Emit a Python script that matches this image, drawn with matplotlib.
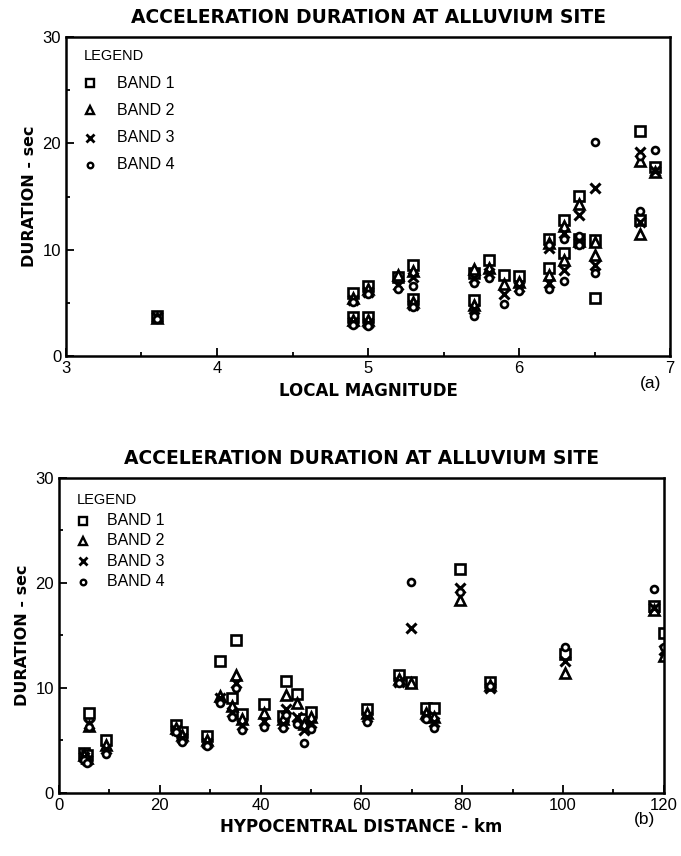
import numpy as np
import matplotlib
matplotlib.use("Agg")
import matplotlib.pyplot as plt
from matplotlib.ticker import MultipleLocator

plt.rcParams['font.family'] = ['Liberation Sans', 'DejaVu Sans']

# ---------------- data: panel (a) ----------------
magnitude = [3.6, 4.9, 4.9, 5.0, 5.0, 5.2, 5.3, 5.3, 5.7, 5.7, 5.8, 5.9,
             6.0, 6.2, 6.2, 6.3, 6.3, 6.4, 6.4, 6.5, 6.5, 6.8, 6.8, 6.9]
a_band1 = [3.8, 5.9, 3.7, 6.6, 3.7, 7.4, 8.6, 5.4, 7.8, 5.3, 9.0, 7.6,
           7.5, 11.0, 8.3, 12.8, 9.7, 15.1, 11.0, 10.9, 5.5, 21.2, 12.8, 17.8]
a_band2 = [3.6, 5.5, 3.4, 6.3, 3.4, 7.6, 8.0, 5.1, 8.2, 4.8, 8.3, 6.8,
           7.0, 10.6, 7.6, 12.2, 9.0, 14.3, 10.8, 10.7, 9.5, 18.3, 11.5, 17.3]
a_band3 = [3.7, 5.3, 3.2, 6.0, 3.1, 6.7, 7.4, 4.8, 7.3, 4.4, 7.8, 5.8,
           6.5, 10.2, 6.9, 11.6, 8.1, 13.3, 10.6, 15.8, 8.6, 19.2, 12.6, 17.4]
a_band4 = [3.5, 5.1, 2.9, 5.8, 2.8, 6.3, 6.6, 4.6, 6.9, 3.8, 7.3, 4.9,
           6.1, 10.4, 6.3, 11.0, 7.1, 11.3, 10.4, 20.1, 7.8, 18.8, 13.6, 19.4]

# ---------------- data: panel (b) ----------------
distance = [5.0, 5.5, 6.0, 9.3, 23.3, 24.5, 29.4, 32.0, 35.2, 34.4, 36.4, 40.6,
            45.0, 47.3, 44.5, 48.7, 50.0, 61.2, 67.4, 69.8, 72.8, 74.4, 79.5,
            85.5, 100.4, 118.1, 120.0]
b_band1 = [3.8, 3.6, 7.6, 5.0, 6.5, 5.8, 5.4, 12.6, 14.6, 9.0, 7.5, 8.5,
           10.7, 9.4, 7.3, 7.0, 7.7, 8.0, 11.2, 10.6, 8.1, 8.1, 21.3,
           10.6, 13.2, 17.8, 15.2]
b_band2 = [3.6, 3.3, 6.4, 4.6, 6.2, 5.5, 5.0, 9.2, 11.2, 8.3, 7.0, 7.6,
           9.3, 8.6, 7.0, 6.6, 7.2, 7.6, 10.9, 10.5, 7.6, 7.2, 18.4,
           10.3, 11.4, 17.4, 13.0]
b_band3 = [3.4, 3.1, 6.6, 4.2, 6.0, 5.2, 4.8, 9.0, 10.5, 7.7, 6.5, 6.9,
           8.0, 7.2, 6.6, 6.0, 6.7, 7.2, 10.6, 15.7, 7.3, 6.8, 19.5,
           10.0, 12.6, 17.6, 13.6]
b_band4 = [3.1, 2.9, 6.3, 3.7, 5.8, 4.9, 4.5, 8.6, 10.0, 7.2, 6.0, 6.3,
           7.4, 6.6, 6.2, 4.8, 6.1, 6.8, 10.5, 20.1, 7.0, 6.2, 19.1,
           10.2, 13.9, 19.4, 13.9]

band_labels = ["BAND 1", "BAND 2", "BAND 3", "BAND 4"]
title_text = "ACCELERATION DURATION AT ALLUVIUM SITE"

markers = ['s', '^', 'x', 'o']
msizes = [6.5, 6.5, 6.5, 5]
BOLD = ['DejaVu Sans']

fig = plt.figure(figsize=(6.81, 8.56), dpi=100)
ax1 = fig.add_axes([0.0969, 0.584, 0.887, 0.3727])
ax2 = fig.add_axes([0.0866, 0.0736, 0.888, 0.368])


def draw(ax, xs, bands):
    for b, (ys, m, ms) in enumerate(zip(bands, markers, msizes)):
        if m == 'x':
            ax.plot(xs, ys, linestyle='none', marker=m, ms=ms, mew=2.2,
                    color='black')
        else:
            ax.plot(xs, ys, linestyle='none', marker=m, ms=ms, mew=1.9,
                    mfc='white', mec='black')
    ax.set_ylim(0, 30)
    ax.yaxis.set_major_locator(MultipleLocator(10))
    ax.yaxis.set_minor_locator(MultipleLocator(5))
    ax.tick_params(which='both', direction='in', labelsize=12, width=1.3,
                   top=False, right=False)
    ax.tick_params(which='major', length=6)
    ax.tick_params(which='minor', length=3)
    for sp in ax.spines.values():
        sp.set_linewidth(1.8)
    ax.set_ylabel("DURATION - sec", fontsize=11.5, fontweight='bold',
                  family=BOLD)
    ax.set_title(title_text, fontsize=13.5, fontweight='bold', pad=10,
                 family=BOLD)


def legend(ax, x0, xt, y0, dy, fs):
    ax.text(x0, y0, "LEGEND", transform=ax.transAxes, fontsize=fs - 1,
            va='center', ha='left')
    for i, (lab, m, ms) in enumerate(zip(band_labels, markers, msizes)):
        y = y0 - dy * (i + 1)
        if m == 'x':
            ax.plot([x0 + 0.01], [y], transform=ax.transAxes, marker=m,
                    ms=ms - 0.5, mew=2.0, color='black', clip_on=False)
        else:
            ax.plot([x0 + 0.01], [y], transform=ax.transAxes, marker=m,
                    ms=ms - 1, mew=1.7, mfc='white', mec='black',
                    clip_on=False)
        ax.text(xt, y, lab, transform=ax.transAxes, fontsize=fs,
                va='center', ha='left')


draw(ax1, magnitude, [a_band1, a_band2, a_band3, a_band4])
ax1.set_xlim(3, 7)
ax1.xaxis.set_major_locator(MultipleLocator(1))
ax1.xaxis.set_minor_locator(MultipleLocator(0.5))
ax1.set_xlabel("LOCAL MAGNITUDE", fontsize=12, fontweight='bold', family=BOLD)
ax1.text(0.985, -0.085, "(a)", transform=ax1.transAxes, fontsize=12.5,
         ha='right', va='center')
legend(ax1, 0.03, 0.085, 0.94, 0.085, 11.5)

draw(ax2, distance, [b_band1, b_band2, b_band3, b_band4])
ax2.set_xlim(0, 120)
ax2.xaxis.set_major_locator(MultipleLocator(20))
ax2.xaxis.set_minor_locator(MultipleLocator(10))
ax2.set_xlabel("HYPOCENTRAL DISTANCE - km", fontsize=12, fontweight='bold',
               family=BOLD)
ax2.text(0.985, -0.085, "(b)", transform=ax2.transAxes, fontsize=12.5,
         ha='right', va='center')
legend(ax2, 0.03, 0.08, 0.93, 0.065, 11.5)

fig.savefig("out.png", dpi=100)
